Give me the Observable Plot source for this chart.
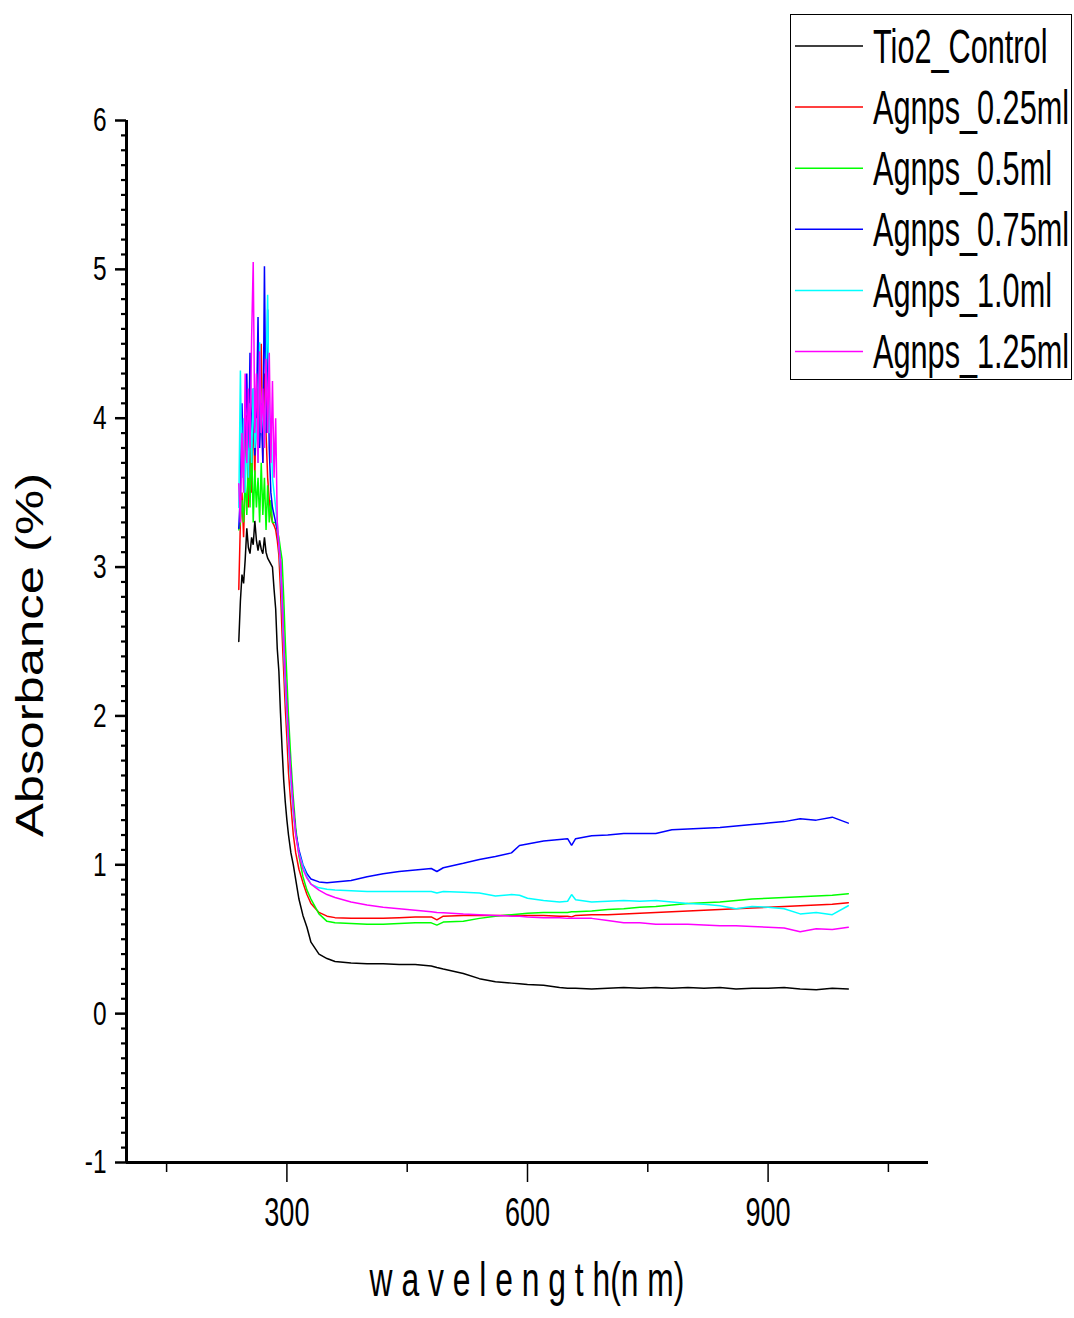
<!DOCTYPE html>
<html><head><meta charset="utf-8">
<script src="https://cdn.jsdelivr.net/npm/d3@7"></script>
<script src="https://cdn.jsdelivr.net/npm/@observablehq/plot@0.6"></script>
<style>
body{margin:0;background:#fff;}
#wrap{position:relative;width:1074px;height:1318px;overflow:hidden;}
#legend{position:absolute;left:790px;top:14px;width:280px;height:364px;border:1.5px solid #000;background:#fff;}
</style></head><body><div id="wrap"><div id="chart"></div><div id="legend"></div></div>
<script>
const seriesNames = ["Tio2_Control","Agnps_0.25ml","Agnps_0.5ml","Agnps_0.75ml","Agnps_1.0ml","Agnps_1.25ml"];
const seriesColors = ["#000000","#ff0000","#00ff00","#0000ff","#00ffff","#ff00ff"];

const wavelength = [240,242,244,246,248,250,252,254,256,258,260,262,264,266,268,270,272,274,276,278,280,282,
  284,286,288,290,292,294,296,298,300,302,305,308,311,315,320,325,330,340,350,360,
  380,400,420,440,460,480,487,495,520,540,560,580,590,600,620,640,650,655,660,680,700,720,740,760,780,800,820,840,860,880,900,920,940,960,980,1000];

const tio2Control = [2.5,2.77,2.95,2.89,3.05,3.26,3.13,3.09,3.2,3.15,3.31,3.18,3.11,3.18,3.12,3.09,3.2,3.1,3.06,3.04,3.02,3.0,
  2.85,2.72,2.45,2.3,2.02,1.78,1.57,1.42,1.3,1.2,1.08,1.0,0.9,0.77,0.66,0.58,0.48,0.40,0.37,0.35,
  0.34,0.335,0.335,0.33,0.33,0.32,0.31,0.30,0.27,0.235,0.215,0.205,0.2,0.195,0.19,0.175,0.17,0.17,0.17,0.165,0.17,0.175,0.17,0.175,0.17,0.175,0.17,0.175,0.165,0.17,0.17,0.175,0.165,0.16,0.17,0.165];

const agnps025 = [2.85,3.3,3.5,3.2,3.6,4.02,3.4,3.9,3.5,4.1,3.6,4.2,3.8,4.0,4.5,3.7,4.3,3.9,3.6,3.45,3.35,3.3,
  3.28,3.25,3.18,3.08,2.85,2.55,2.3,2.05,1.85,1.62,1.4,1.2,1.08,0.97,0.88,0.8,0.74,0.68,0.655,0.645,
  0.64,0.64,0.64,0.645,0.65,0.65,0.63,0.655,0.66,0.66,0.66,0.66,0.66,0.66,0.66,0.655,0.655,0.65,0.66,0.665,0.665,0.67,0.675,0.68,0.685,0.69,0.695,0.70,0.705,0.71,0.715,0.72,0.725,0.73,0.735,0.745];

const agnps05 = [3.25,3.3,3.45,3.3,3.6,3.35,3.7,3.4,3.85,3.3,3.65,3.4,3.6,3.3,3.7,3.35,3.6,3.25,3.55,3.3,3.45,3.3,
  3.3,3.3,3.25,3.2,3.12,3.05,2.8,2.5,2.25,2.0,1.7,1.45,1.25,1.06,0.92,0.83,0.77,0.67,0.62,0.61,
  0.605,0.60,0.60,0.605,0.61,0.61,0.595,0.615,0.62,0.64,0.655,0.665,0.67,0.675,0.68,0.68,0.68,0.685,0.685,0.69,0.70,0.705,0.715,0.72,0.73,0.74,0.745,0.75,0.76,0.77,0.775,0.78,0.785,0.79,0.795,0.805];

const agnps075 = [3.26,3.5,4.1,3.6,3.9,4.3,3.7,4.44,3.8,4.2,3.75,4.0,4.68,3.8,4.1,3.7,5.02,3.9,4.73,3.8,3.5,3.4,
  3.35,3.3,3.25,3.15,3.04,2.8,2.5,2.25,2.05,1.85,1.6,1.38,1.22,1.1,1.0,0.94,0.905,0.885,0.88,0.885,
  0.895,0.92,0.94,0.955,0.965,0.975,0.955,0.98,1.01,1.035,1.055,1.08,1.13,1.14,1.16,1.17,1.175,1.13,1.175,1.195,1.2,1.21,1.21,1.21,1.235,1.24,1.245,1.25,1.26,1.27,1.28,1.29,1.31,1.3,1.32,1.28];

const agnps10 = [3.4,4.32,3.6,4.0,3.5,3.9,3.6,4.1,3.7,4.2,3.8,4.0,3.7,4.51,3.9,4.1,3.8,4.3,4.83,3.9,4.0,3.6,
  3.5,3.4,3.3,3.15,3.0,2.75,2.45,2.2,2.0,1.8,1.55,1.35,1.2,1.08,0.99,0.92,0.87,0.845,0.835,0.83,
  0.825,0.82,0.82,0.82,0.82,0.82,0.81,0.82,0.815,0.81,0.79,0.80,0.795,0.775,0.76,0.75,0.755,0.80,0.765,0.75,0.755,0.76,0.755,0.76,0.75,0.74,0.735,0.725,0.705,0.72,0.715,0.705,0.67,0.68,0.665,0.725];

const agnps125 = [3.56,3.3,3.9,3.5,4.3,3.7,4.2,3.8,4.54,5.05,3.9,4.3,3.7,4.45,3.9,4.2,3.8,4.4,3.9,4.44,3.7,4.25,
  3.6,4.0,3.3,3.15,3.04,2.8,2.5,2.25,2.05,1.85,1.6,1.38,1.2,1.07,0.97,0.91,0.87,0.83,0.80,0.78,
  0.75,0.73,0.715,0.705,0.695,0.685,0.68,0.678,0.67,0.665,0.66,0.655,0.655,0.65,0.645,0.645,0.64,0.64,0.64,0.64,0.625,0.61,0.61,0.60,0.60,0.60,0.595,0.59,0.59,0.585,0.58,0.575,0.55,0.57,0.565,0.58];

const yMajorTicks = [-1,0,1,2,3,4,5,6];
const xMajorTicks = [300,600,900];
const xMinorTicks = [150,450,750,1050];
const xLabel = "w a v e l e n g t h(n m)";
const yLabel = "Absorbance (%)";

const seriesValues = [tio2Control, agnps025, agnps05, agnps075, agnps10, agnps125];
const rows = [];
seriesNames.forEach((name, k) => {
  wavelength.forEach((w, i) => rows.push({series: name, wavelength: w, value: seriesValues[k][i]}));
});
const yMinorTicks = d3.range(-10, 61).map(d => d / 10).filter(d => Math.abs(d - Math.round(d)) > 1e-9);

const FONT = '"Liberation Sans", Arial, Helvetica, sans-serif';

const plot = Plot.plot({
  width: 1074, height: 1318,
  marginLeft: 126, marginRight: 146, marginTop: 120, marginBottom: 156,
  style: {fontFamily: FONT, background: "white", color: "black", overflow: "visible"},
  x: {domain: [100, 1100]},
  y: {domain: [-1, 6]},
  color: {domain: seriesNames, range: seriesColors},
  marks: [
    Plot.axisY({ticks: yMinorTicks, tickSize: 5, strokeWidth: 2.2, text: null, label: null}),
    Plot.axisY({ticks: yMajorTicks, tickSize: 11, tickPadding: 9, strokeWidth: 2.5, fontSize: 34, label: null, tickFormat: d => String(d)}),
    Plot.axisX({ticks: xMinorTicks, tickSize: 10, strokeWidth: 1.5, text: null, label: null}),
    Plot.axisX({ticks: xMajorTicks, tickSize: 20, tickPadding: 14, strokeWidth: 1.5, fontSize: 41, label: null, tickFormat: d => String(d)}),
    Plot.line(rows, {x: "wavelength", y: "value", z: "series", stroke: "series", strokeWidth: 1.5, strokeLinejoin: "miter"}),
    Plot.ruleX([100], {strokeWidth: 3}),
    Plot.ruleY([-1], {strokeWidth: 3})
  ]
});
document.getElementById("chart").appendChild(plot);

// condense the tick label text horizontally
function condense(selector, sx) {
  d3.select(plot).selectAll(selector).each(function() {
    const t = d3.select(this);
    let tr = t.attr("transform");
    if (!tr) {
      const x = +t.attr("x") || 0, y = +t.attr("y") || 0;
      t.attr("x", null).attr("y", null);
      tr = `translate(${x},${y})`;
    }
    t.attr("transform", tr + ` scale(${sx},1)`);
  });
}
condense('g[aria-label="y-axis tick label"] text', 0.72);
condense('g[aria-label="x-axis tick label"] text', 0.66);

// axis titles
const xs = plot.scale("x"), ys = plot.scale("y");
const svg = d3.select(plot);
const cx = (xs.range[0] + xs.range[1]) / 2;
svg.append("text")
  .attr("transform", `translate(${cx},1296) scale(0.663,1)`)
  .attr("text-anchor", "middle")
  .attr("font-family", FONT).attr("font-size", 48).attr("fill", "black")
  .text(xLabel);
svg.append("text")
  .attr("transform", `translate(43,655) rotate(-90) scale(1,0.77)`)
  .attr("text-anchor", "middle")
  .attr("font-family", FONT).attr("font-size", 50.8).attr("fill", "black")
  .text(yLabel);

// legend
const lg = d3.select("#legend").append("svg").attr("width", 280).attr("height", 364)
  .style("display", "block");
seriesNames.forEach((name, i) => {
  const y = 31 + i * 61.1;
  lg.append("line").attr("x1", 4).attr("x2", 72).attr("y1", y).attr("y2", y)
    .attr("stroke", seriesColors[i]).attr("stroke-width", 1.5);
  lg.append("text")
    .attr("transform", `translate(82,${y + 16.5}) scale(0.646,1)`)
    .attr("font-family", FONT).attr("font-size", 47.5).attr("fill", "black")
    .text(name);
});
</script></body></html>
